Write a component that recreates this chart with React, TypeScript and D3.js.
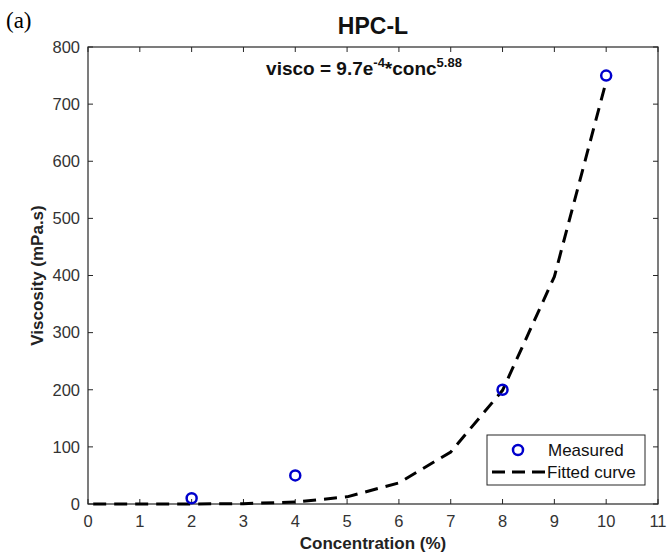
import React, { useEffect, useRef } from 'react';
import * as d3 from 'd3';

// measured points
const measuredConc = [2, 4, 8, 10];
const measuredVisco = [10, 50, 200, 750];

// fitted curve at each integer
const fitConc = [0.1, 1, 2, 3, 4, 5, 6, 7, 8, 9, 10];
const fitVisco = [0, 0, 0, 0.6, 3.5, 12.5, 37, 91, 199, 398, 740];

const xTicks = [0, 1, 2, 3, 4, 5, 6, 7, 8, 9, 10, 11];
const yTicks = [0, 100, 200, 300, 400, 500, 600, 700, 800];

export default function App() {
  const ref = useRef<SVGSVGElement | null>(null);

  useEffect(() => {
    const svg = d3.select(ref.current);
    svg.selectAll('*').remove();

    const width = 670;
    const height = 555;
    const margin = { top: 47, right: 12, bottom: 51, left: 88 };
    const innerWidth = width - margin.left - margin.right;
    const innerHeight = height - margin.top - margin.bottom;
    const font = 'Liberation Sans, Arial, sans-serif';
    const axisColor = '#262626';

    const x = d3.scaleLinear().domain([0, 11]).range([0, innerWidth]);
    const y = d3.scaleLinear().domain([0, 800]).range([innerHeight, 0]);

    const g = svg.append('g').attr('transform', `translate(${margin.left},${margin.top})`);

    // plot box
    g.append('rect')
      .attr('width', innerWidth)
      .attr('height', innerHeight)
      .attr('fill', '#fff')
      .attr('stroke', axisColor)
      .attr('stroke-width', 1.2);

    // ticks inside on all four sides
    const tickLen = 5;
    xTicks.forEach(t => {
      g.append('line').attr('x1', x(t)).attr('x2', x(t)).attr('y1', innerHeight).attr('y2', innerHeight - tickLen).attr('stroke', axisColor);
      g.append('line').attr('x1', x(t)).attr('x2', x(t)).attr('y1', 0).attr('y2', tickLen).attr('stroke', axisColor);
      g.append('text')
        .attr('x', x(t))
        .attr('y', innerHeight + 23)
        .attr('text-anchor', 'middle')
        .attr('font-family', font)
        .attr('font-size', 16.5)
        .attr('fill', '#333')
        .text(t);
    });
    yTicks.forEach(t => {
      g.append('line').attr('x1', 0).attr('x2', tickLen).attr('y1', y(t)).attr('y2', y(t)).attr('stroke', axisColor);
      g.append('line').attr('x1', innerWidth).attr('x2', innerWidth - tickLen).attr('y1', y(t)).attr('y2', y(t)).attr('stroke', axisColor);
      g.append('text')
        .attr('x', -8)
        .attr('y', y(t))
        .attr('dy', '0.35em')
        .attr('text-anchor', 'end')
        .attr('font-family', font)
        .attr('font-size', 16.5)
        .attr('fill', '#333')
        .text(t);
    });

    // fitted curve
    const line = d3.line<number>()
      .x((_, i) => x(fitConc[i]))
      .y(d => y(d));
    g.append('path')
      .datum(fitVisco)
      .attr('d', line)
      .attr('fill', 'none')
      .attr('stroke', '#000')
      .attr('stroke-width', 3)
      .attr('stroke-dasharray', '13,8');

    // measured points
    g.selectAll('circle.m')
      .data(measuredVisco)
      .enter()
      .append('circle')
      .attr('class', 'm')
      .attr('cx', (_, i) => x(measuredConc[i]))
      .attr('cy', d => y(d))
      .attr('r', 5)
      .attr('fill', 'none')
      .attr('stroke', '#0000cc')
      .attr('stroke-width', 2.5);

    // legend
    const lg = svg.append('g').attr('transform', 'translate(487,435)');
    lg.append('rect')
      .attr('width', 158)
      .attr('height', 50)
      .attr('fill', '#fff')
      .attr('stroke', axisColor)
      .attr('stroke-width', 1);
    lg.append('circle')
      .attr('cx', 31)
      .attr('cy', 15)
      .attr('r', 5)
      .attr('fill', 'none')
      .attr('stroke', '#0000cc')
      .attr('stroke-width', 2.5);
    lg.append('text')
      .attr('x', 61).attr('y', 15).attr('dy', '0.35em')
      .attr('font-family', font).attr('font-size', 17).attr('fill', '#111')
      .text('Measured');
    lg.append('line')
      .attr('x1', 5).attr('x2', 58).attr('y1', 37).attr('y2', 37)
      .attr('stroke', '#000').attr('stroke-width', 3).attr('stroke-dasharray', '13,7');
    lg.append('text')
      .attr('x', 60).attr('y', 37).attr('dy', '0.35em')
      .attr('font-family', font).attr('font-size', 17).attr('fill', '#111')
      .text('Fitted curve');

    // equation
    const eq = svg.append('text')
      .attr('x', 364)
      .attr('y', 75)
      .attr('text-anchor', 'middle')
      .attr('font-family', font)
      .attr('font-size', 19)
      .attr('font-weight', 'bold')
      .attr('fill', '#111');
    eq.append('tspan').text('visco = 9.7e');
    eq.append('tspan').attr('font-size', 13).attr('dy', -8).text('-4');
    eq.append('tspan').attr('dy', 8).text('*conc');
    eq.append('tspan').attr('font-size', 13).attr('dy', -8).text('5.88');

    // title
    svg.append('text')
      .attr('x', margin.left + innerWidth / 2)
      .attr('y', 34)
      .attr('text-anchor', 'middle')
      .attr('font-family', font)
      .attr('font-size', 23)
      .attr('font-weight', 'bold')
      .attr('fill', '#111')
      .text('HPC-L');

    svg.append('text')
      .attr('x', 6)
      .attr('y', 28)
      .attr('font-family', 'Liberation Serif, Times New Roman, serif')
      .attr('font-size', 23)
      .attr('fill', '#000')
      .text('(a)');

    // axis labels
    svg.append('text')
      .attr('x', margin.left + innerWidth / 2)
      .attr('y', 549)
      .attr('text-anchor', 'middle')
      .attr('font-family', font)
      .attr('font-size', 17)
      .attr('font-weight', 'bold')
      .attr('fill', '#222')
      .text('Concentration (%)');

    svg.append('text')
      .attr('transform', `translate(43,${margin.top + innerHeight / 2}) rotate(-90)`)
      .attr('text-anchor', 'middle')
      .attr('font-family', font)
      .attr('font-size', 17)
      .attr('font-weight', 'bold')
      .attr('fill', '#222')
      .text('Viscosity (mPa.s)');
  }, []);

  return (
    <svg
      ref={ref}
      width={670}
      height={555}
      style={{ position: 'absolute', left: 0, top: 0, background: '#fff' }}
    />
  );
}
